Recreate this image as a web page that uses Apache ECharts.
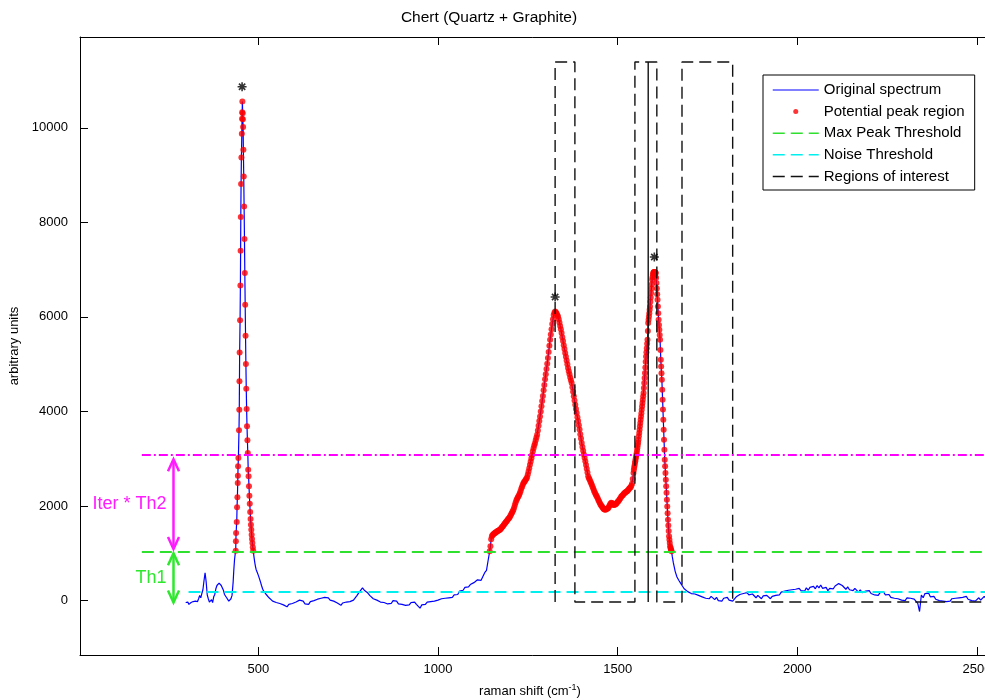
<!DOCTYPE html>
<html>
<head>
<meta charset="utf-8">
<script src="https://cdn.jsdelivr.net/npm/echarts@6/dist/echarts.min.js"></script>
<style>
html,body{margin:0;padding:0;background:#fff;overflow:hidden}
#chart{width:985px;height:700px}
</style>
</head>
<body>
<div id="chart"></div>
<script>
const FONT = '"Liberation Sans", Arial, Helvetica, sans-serif';

// ---------- data ----------
const titleText = 'Chert (Quartz + Graphite)';
const legendNames = ['Original spectrum', 'Potential peak region', 'Max Peak Threshold', 'Noise Threshold', 'Regions of interest'];

// baseline before the quartz peak: x = 298, 301, ... (step 3)
const leftBaseStart = 298, leftBaseStep = 3;
const leftBaseY = [
  -40, -60, -30, -80, -85, -40, -60, -20, -50, -10,
  30, -20, 40, 110, 60, 150, 230, 420, 590, 400,
  120, 40, -30, -60, 20, -40, 80, 130, 250, 320,
  350, 370, 350, 320, 280, 220, 130, 100, 60, 20,
  -10, -20, 40, 110, 380
];

// quartz peak (~460 cm-1)
const quartzX = [
  432, 434, 436,
  437.3, 437.7, 438.3, 440.1, 441, 441.9, 442.9, 443.3, 443.8, 444.7, 446.4, 447.2,
  447.7, 448.2, 449.4, 450.3, 450.9, 451.4, 452.2, 453.1, 454.3, 454.9, 455.3, 455.8,
  456.6, 457.2, 457.8, 458.6, 459.6, 460.6, 461.6, 462.6, 463.6, 464.6, 465.6, 466.6,
  467.6, 468.7, 469.8, 470.9, 472, 473.1, 474.2, 475.3, 476.4, 477.5, 478.6, 479.6,
  480.6, 481.6, 482.6, 483.6, 484.8, 486,
  488, 490, 492, 494, 497, 500, 503, 506, 509, 512, 515, 518, 521
];
const quartzY = [
  650, 870, 1000,
  1057, 1254, 1431, 1663, 1973, 2185, 2488, 2643, 2840, 3016, 3601, 4038,
  4637, 5250, 5927, 6667, 7400, 8111, 8809, 9373, 9873, 10190, 10331, 10557,
  10310, 10183, 10014, 9535, 8971, 8337, 7646, 6928, 6258, 5603, 5004, 4482,
  4052, 3686, 3390, 3122, 2770, 2629, 2417, 2220, 2051, 1875, 1727, 1607,
  1501, 1395, 1304, 1219, 1127, 1057,
  930, 820, 730, 660, 600, 540, 470, 400, 320, 250, 200, 170, 140
];

// baseline between quartz and D band: x = 525, 530, ... (step 5)
const midBaseStart = 525, midBaseStep = 5;
const midBaseY = [
  110, 60, 20, -10, 20, -40, -20, -60, -20, -90,
  -60, -130, -80, -110, -60, -100, -30, -60, 10, -30,
  -10, -70, -30, -80, -20, -50, 0, -40, 30, 0,
  50, 20, 70, 30, 60, 10, 40, -10, 20, -50,
  -20, -100, -50, -80, -30, -70, -20, -50, 10, 40,
  110, 170, 140, 270, 220, 250, 160, 110, 90, 40,
  70, 10, 30, -30, 10, -40, -20, -70, -30, -60,
  0, -40, -10, -70, -40, -80, -50, -100, -60, -90,
  -40, -70, -30, -80, -110, -160, -90, -60, -80, -30,
  -60, -20, -50, -10, -40, 10, -10, 40, 10, 50,
  20, 60, 90, 70, 120, 150, 130, 200, 240, 220,
  280, 310, 290, 340, 320, 380, 400, 440, 470, 430,
  510, 590, 640, 870
];

// D band (graphite ~1330): x = 1144, 1146, ... 1544 (step 2)
const dBandStart = 1144, dBandStep = 2;
const dBandY = [
  1045, 1150, 1300, 1360, 1390, 1400, 1420, 1425, 1440, 1445,
  1460, 1470, 1480, 1490, 1500, 1510, 1530, 1550, 1570, 1590,
  1610, 1630, 1650, 1670, 1690, 1710, 1730, 1750, 1770, 1800,
  1830, 1860, 1890, 1924, 1970, 2020, 2070, 2120, 2150, 2180,
  2210, 2240, 2277, 2320, 2370, 2410, 2450, 2488, 2510, 2530,
  2555, 2580, 2610, 2670, 2730, 2800, 2875, 2940, 3010, 3080,
  3160, 3220, 3280, 3330, 3390, 3450, 3510, 3600, 3700, 3800,
  3896, 4000, 4110, 4220, 4330, 4450, 4560, 4680, 4790, 4900,
  5010, 5130, 5260, 5390, 5518, 5630, 5740, 5850, 5950, 6040,
  6090, 6116, 6100, 6070, 6040, 6010, 5950, 5880, 5810, 5740,
  5660, 5570, 5490, 5400, 5320, 5237, 5160, 5080, 5000, 4920,
  4850, 4790, 4720, 4660, 4603, 4510, 4420, 4320, 4230, 4140,
  4050, 3970, 3880, 3800, 3710, 3620, 3520, 3430, 3334, 3250,
  3170, 3090, 3020, 2950, 2870, 2790, 2710, 2628, 2590, 2560,
  2520, 2490, 2452, 2410, 2370, 2330, 2290, 2260, 2230, 2200,
  2170, 2135, 2100, 2070, 2040, 2010, 1994, 1970, 1950, 1935,
  1925, 1920, 1930, 1945, 1950, 1960, 1990, 2020, 2050, 2070,
  2065, 2040, 2020, 2030, 2030, 2040, 2050, 2070, 2090, 2100,
  2130, 2150, 2170, 2200, 2215, 2230, 2250, 2265, 2280, 2290,
  2300, 2315, 2330, 2347, 2370, 2382, 2400, 2430, 2470, 2570,
  2700
];

// G band (graphite ~1600): x = 1545, 1546, ... 1652 (step 1)
const gBandStart = 1545, gBandStep = 1;
const gBandY = [
  2760, 2810, 2860, 2911, 2950, 2995, 3040, 3080, 3122, 3180,
  3235, 3290, 3345, 3404, 3475, 3545, 3615, 3686, 3755, 3825,
  3895, 3965, 4038, 4110, 4180, 4250, 4320, 4391, 4495, 4600,
  4710, 4814, 4930, 5050, 5165, 5255, 5340, 5430, 5518, 5700,
  5871, 5940, 6010, 6080, 6150, 6222, 6320, 6410, 6505, 6600,
  6690, 6786, 6840, 6890, 6928, 6940, 6950, 6945, 6950, 6940,
  6935, 6928, 6830, 6717, 6600, 6480, 6364, 6220, 6080, 5941,
  5830, 5730, 5620, 5518, 5300, 5095, 4950, 4810, 4672, 4460,
  4249, 4040, 3827, 3615, 3404, 3190, 2981, 2840, 2700, 2558,
  2420, 2280, 2135, 1990, 1850, 1712, 1590, 1470, 1360, 1290,
  1220, 1148, 1120, 1090, 1065, 1042, 990, 930
];

// baseline after G band: x = 1655, 1660, ... 2600 (step 5)
const rightBaseStart = 1655, rightBaseStep = 5;
const rightBaseY = [
  797, 620, 500, 430, 370, 310, 250, 230, 190, 200,
  150, 180, 140, 170, 110, 130, 80, 110, 50, 80,
  40, 90, 60, 20, 70, 0, 40, -10, 50, 20,
  70, 10, 40, -10, 30, 80, 60, 130, 90, 150,
  110, 170, 120, 90, 140, 100, 60, 110, 70, 40,
  100, 60, 110, 70, 40, 90, 60, 110, 150, 120,
  180, 140, 200, 160, 220, 180, 230, 190, 240, 200,
  260, 210, 250, 200, 270, 220, 280, 240, 300, 250,
  320, 270, 330, 260, 220, 280, 210, 260, 300, 250,
  310, 280, 360, 400, 320, 290, 240, 290, 230, 270,
  210, 260, 230, 180, 230, 170, 140, 200, 160, 210,
  150, 190, 120, 160, 110, 170, 130, 180, 120, 80,
  130, 70, 110, 50, 90, 40, 70, 10, 50, 0,
  60, 100, 50, 90, 30, 70, -60, -230, 120, 60,
  150, 110, 160, 80, 40, 90, 30, 60, 0, 40,
  -10, 30, -20, 20, -10, 40, 0, 50, 10, 60,
  20, 70, 40, 90, 30, 60, 0, 40, -10, 30,
  60, 10, 50, 90, 40, 70, 10, 50, 0, 40,
  -20, 30, 0, 40, -10, 30, 10, -20, 20, 0
];

// thresholds
const maxPeakThreshold = 1030;
const noiseThreshold = 183;
const iterTh2Level = 3080;
const thresholdStartX = 176;
const noiseStartX = 306;
const xEnd = 2600;

// detected peaks (star markers)
const peakX = [455, 1326, 1602];
const peakStarY = [10867, 6421, 7267];

// regions of interest
const roiStart = [1326, 1548, 1585, 1679];
const roiEnd = [1381, 1585, 1609, 1820];
const roiTop = 11390;
const roiBase = -30;

// annotation arrows
const arrowX = 262;
const annotations = [
  {label: 'Iter * Th2', from: 2990, to: 1090, color: '#ff1aff'},
  {label: 'Th1', from: 1000, to: -40, color: '#2ee82e'}
];

// axes
const xMin = 4, xMax = 2600, xStep = 500;
const yMin = -1150, yMax = 11920, yStep = 2000;

// ---------- build series data ----------
function seg(start, step, ys) { return ys.map((y, i) => [start + i * step, y]); }
const spectrum = [].concat(
  seg(leftBaseStart, leftBaseStep, leftBaseY),
  quartzX.map((x, i) => [x, quartzY[i]]),
  seg(midBaseStart, midBaseStep, midBaseY),
  seg(dBandStart, dBandStep, dBandY),
  seg(gBandStart, gBandStep, gBandY),
  seg(rightBaseStart, rightBaseStep, rightBaseY)
);
const peakRegion = spectrum.filter(p => p[1] >= 1036);

const roiLine = [];
roiStart.forEach((s, i) => {
  roiLine.push([s, roiBase], [s, roiTop], [roiEnd[i], roiTop], [roiEnd[i], roiBase]);
});
roiLine.push([xEnd, roiBase]);

const stars = peakX.map((x, i) => [x, peakStarY[i]]);

// ---------- chart ----------
const chart = echarts.init(document.getElementById('chart'));
const axisCommon = {
  axisLine: {show: true, onZero: false, lineStyle: {color: '#000', width: 1}},
  axisTick: {show: true, inside: true, length: 8, lineStyle: {color: '#000', width: 1}},
  splitLine: {show: false}
};
const legendData = legendNames.map((n, i) => i === 1
  ? {name: n}
  : {name: n, itemStyle: {opacity: 0}, lineStyle: {width: i === 0 ? 1.2 : 1.5}});
const option = {
  animation: false,
  backgroundColor: '#fff',
  textStyle: {fontFamily: FONT},
  title: {
    text: titleText, left: 484, top: 5, textAlign: 'center',
    textStyle: {fontFamily: FONT, fontSize: 15.5, fontWeight: 'normal', color: '#000'}
  },
  legend: {
    data: legendData,
    orient: 'vertical',
    left: 763, top: 75,
    padding: [7, 10, 5.6, 9],
    itemGap: 5.6,
    itemWidth: 46, itemHeight: 5,
    borderColor: '#000', borderWidth: 1,
    backgroundColor: '#fff',
    selectedMode: false,
    textStyle: {fontFamily: FONT, fontSize: 15, color: '#000', lineHeight: 16}
  },
  grid: {left: 80, right: -28, top: 37, bottom: 45, containLabel: false, outerBoundsMode: 'none'},
  xAxis: [
    Object.assign({}, axisCommon, {
      type: 'value', position: 'bottom', min: xMin, max: xMax,
      minInterval: xStep, maxInterval: xStep, splitNumber: 5,
      axisLabel: {
        formatter: v => (v % xStep === 0 && v > 0) ? String(v) : '',
        fontFamily: FONT, fontSize: 13, color: '#000', margin: 8
      },
      name: '{a|raman shift (cm}{b|-1}{a|)}',
      nameLocation: 'middle', nameGap: 28,
      nameTextStyle: {
        color: '#000', fontFamily: FONT, fontSize: 13, padding: [0, 33, 0, 0],
        rich: {
          a: {fontFamily: FONT, fontSize: 13, color: '#000', lineHeight: 16},
          b: {fontFamily: FONT, fontSize: 9, color: '#000', lineHeight: 9, verticalAlign: 'top'}
        }
      }
    }),
    Object.assign({}, axisCommon, {
      type: 'value', position: 'top', min: xMin, max: xMax,
      minInterval: xStep, maxInterval: xStep, splitNumber: 5,
      axisLabel: {show: false}
    })
  ],
  yAxis: [
    Object.assign({}, axisCommon, {
      type: 'value', min: yMin, max: yMax,
      minInterval: yStep, maxInterval: yStep, splitNumber: 6,
      axisLabel: {
        formatter: v => (v % yStep === 0) ? String(v) : '',
        fontFamily: FONT, fontSize: 13, color: '#000', margin: 12
      },
      name: 'arbitrary units', nameLocation: 'middle', nameGap: 50, nameRotate: 90,
      nameTextStyle: {fontFamily: FONT, fontSize: 13, color: '#000'}
    })
  ],
  series: [
    {
      name: 'Original spectrum', type: 'line', data: spectrum, symbol: 'none',
      lineStyle: {color: '#0000ff', width: 1.2}, itemStyle: {color: '#0000ff'},
      silent: true, z: 2
    },
    {
      name: 'Potential peak region', type: 'scatter', data: peakRegion,
      symbol: 'circle', symbolSize: 6, itemStyle: {color: '#ff0000'},
      silent: true, z: 3
    },
    {
      name: 'Max Peak Threshold', type: 'line', symbol: 'none',
      data: [[thresholdStartX, maxPeakThreshold], [xEnd, maxPeakThreshold]],
      lineStyle: {color: '#2fe02f', width: 2, type: [12, 6]}, itemStyle: {color: '#2fe02f'},
      silent: true, z: 4
    },
    {
      name: 'Noise Threshold', type: 'line', symbol: 'none',
      data: [[noiseStartX, noiseThreshold], [xEnd, noiseThreshold]],
      lineStyle: {color: '#00f0f0', width: 2, type: [12, 6]}, itemStyle: {color: '#00f0f0'},
      silent: true, z: 4
    },
    {
      name: 'Regions of interest', type: 'line', symbol: 'none', data: roiLine,
      lineStyle: {color: '#111', width: 1.4, type: [12, 6]}, itemStyle: {color: '#111'},
      silent: true, z: 5
    },
    {
      name: 'Iter * Th2 level', type: 'line', symbol: 'none',
      data: [[thresholdStartX, iterTh2Level], [xEnd, iterTh2Level]],
      lineStyle: {color: '#ff00ff', width: 2, type: [9, 3, 2, 3]},
      silent: true, z: 5
    },
    {
      name: 'Peaks', type: 'scatter', data: stars,
      symbol: 'path://M5 0 L5 10 M0 5 L10 5 M1.5 1.5 L8.5 8.5 M1.5 8.5 L8.5 1.5',
      symbolSize: 9,
      itemStyle: {color: 'transparent', borderColor: '#000', borderWidth: 1.6},
      silent: true, z: 6
    },
    {
      name: 'Annotations', type: 'custom', silent: true, z: 7,
      data: annotations.map((a, i) => [arrowX, a.from, a.to, i]),
      renderItem: function (params, api) {
        const a = annotations[api.value(3)];
        const p1 = api.coord([api.value(0), api.value(1)]);
        const p2 = api.coord([api.value(0), api.value(2)]);
        const x = Math.round(p1[0]) + 0.5, y1 = p1[1], y2 = p2[1];
        const st = {stroke: a.color, lineWidth: 2.5, fill: null, lineJoin: 'miter'};
        return {
          type: 'group',
          children: [
            {type: 'line', shape: {x1: x, y1: y1 + 1, x2: x, y2: y2 - 1}, style: st},
            {type: 'polyline', shape: {points: [[x - 5.5, y1 + 12], [x, y1], [x + 5.5, y1 + 12]]}, style: st},
            {type: 'polyline', shape: {points: [[x - 5.5, y2 - 12], [x, y2], [x + 5.5, y2 - 12]]}, style: st},
            {type: 'text', x: x - 7, y: (y1 + y2) / 2,
             style: {text: a.label, fill: a.color, font: '18px ' + FONT, align: 'right', verticalAlign: 'middle'}}
          ]
        };
      }
    }
  ]
};
chart.setOption(option);
</script>
</body>
</html>
